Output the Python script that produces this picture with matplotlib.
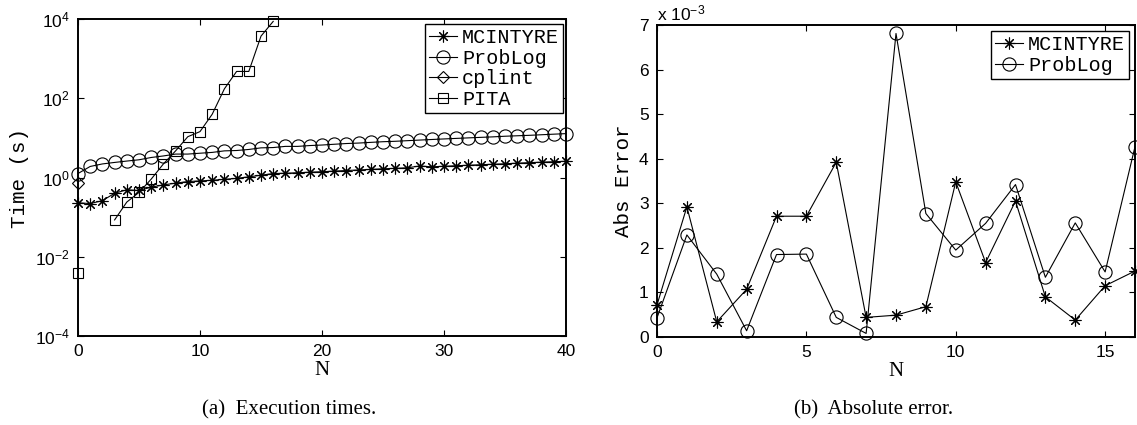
import numpy as np
import matplotlib
matplotlib.use("Agg")
import matplotlib.pyplot as plt
from matplotlib.ticker import FixedLocator, FuncFormatter

plt.rcParams["font.family"] = ["Liberation Sans", "DejaVu Sans"]
plt.rcParams["mathtext.fontset"] = "custom"
plt.rcParams["mathtext.rm"] = "Liberation Sans"
plt.rcParams["mathtext.it"] = "Liberation Sans:italic"
plt.rcParams["mathtext.bf"] = "Liberation Sans:bold"

MONO = ["Liberation Mono", "DejaVu Sans Mono"]
SERIF = ["Liberation Serif", "DejaVu Serif"]

# ---- (a) execution times, seconds ----
n_time = list(range(0, 41))
time_mcintyre = [0.23, 0.22, 0.26, 0.40, 0.49, 0.47, 0.57, 0.65, 0.72, 0.79,
                 0.82, 0.85, 0.90, 0.95, 1.04, 1.14, 1.26, 1.28, 1.32, 1.36,
                 1.40, 1.45, 1.50, 1.55, 1.60, 1.66, 1.70, 1.76, 1.95, 1.86,
                 1.92, 1.98, 2.04, 2.10, 2.16, 2.22, 2.30, 2.37, 2.44, 2.50,
                 2.57]
time_problog = [1.26, 1.9, 2.2, 2.4, 2.6, 2.8, 3.2, 3.5, 3.9, 3.9,
                4.1, 4.3, 4.7, 4.8, 5.1, 5.6, 5.7, 6.1, 6.1, 6.4,
                6.6, 6.9, 7.2, 7.4, 7.7, 8.0, 8.2, 8.5, 8.8, 9.1,
                9.4, 9.7, 10.0, 10.3, 10.6, 11.0, 11.3, 11.6, 12.0, 12.4,
                12.8]
n_cplint = [0]
time_cplint = [0.71]
n_pita = list(range(0, 17))
time_pita = [0.0038, np.nan, np.nan, 0.085, 0.24, 0.42, 0.91, 2.2, 4.7, 10.7,
             14.4, 39.5, 173, 475, 475, 3700, 8700]

# ---- (b) absolute error ----
n_err = list(range(0, 17))
err_mcintyre = [0.72e-3, 2.92e-3, 0.34e-3, 1.07e-3, 2.71e-3, 2.71e-3, 3.92e-3,
                0.44e-3, 0.49e-3, 0.68e-3, 3.48e-3, 1.67e-3, 3.05e-3, 0.90e-3,
                0.38e-3, 1.15e-3, 1.48e-3]
err_problog = [0.43e-3, 2.29e-3, 1.41e-3, 0.14e-3, 1.85e-3, 1.86e-3, 0.44e-3,
               0.08e-3, 6.81e-3, 2.77e-3, 1.95e-3, 2.55e-3, 3.42e-3, 1.34e-3,
               2.56e-3, 1.46e-3, 4.27e-3]

W, H = 1137, 425
fig = plt.figure(figsize=(W / 100, H / 100), dpi=100)

def frac(l, t, r, b):
    return [l / W, (H - b) / H, (r - l) / W, (b - t) / H]

ax1 = fig.add_axes(frac(78, 19, 566, 336))
ax2 = fig.add_axes(frac(657, 25, 1135, 337))

star = (8, 2, 0)
line_kw = dict(color="black", linewidth=0.8, markerfacecolor="none",
               markeredgecolor="black", markeredgewidth=0.8, clip_on=False)

ax1.plot(n_time, time_mcintyre, marker=star, markersize=8.5, label="MCINTYRE", **line_kw)
ax1.plot(n_time, time_problog, marker="o", markersize=9.5, label="ProbLog", **line_kw)
ax1.plot(n_cplint, time_cplint, marker="D", markersize=6.5, label="cplint", **line_kw)
ax1.plot(n_pita, time_pita, marker="s", markersize=7, label="PITA", **line_kw)
ax1.set_yscale("log")
ax1.set_xlim(0, 40)
ax1.set_ylim(1e-4, 1e4)
ax1.xaxis.set_major_locator(FixedLocator([0, 10, 20, 30, 40]))
ax1.yaxis.set_major_locator(FixedLocator([1e-4, 1e-2, 1e0, 1e2, 1e4]))
ax1.yaxis.set_minor_locator(FixedLocator([]))
ax1.set_xlabel("N", family=SERIF, fontsize=15, labelpad=1)
ax1.set_ylabel("Time (s)", family=MONO, fontsize=15, labelpad=4)

ax2.plot(n_err, err_mcintyre, marker=star, markersize=8.5, label="MCINTYRE", **line_kw)
ax2.plot(n_err, err_problog, marker="o", markersize=9.5, label="ProbLog", **line_kw)
ax2.set_xlim(0, 16)
ax2.set_ylim(0, 7e-3)
ax2.xaxis.set_major_locator(FixedLocator([0, 5, 10, 15]))
ax2.yaxis.set_major_locator(FixedLocator([i * 1e-3 for i in range(8)]))
ax2.yaxis.set_major_formatter(FuncFormatter(lambda v, p: f"{v * 1e3:.0f}"))
ax2.text(0.0, 1.005, r"x $10^{-3}$", transform=ax2.transAxes, fontsize=12.5,
         ha="left", va="bottom")
ax2.set_xlabel("N", family=SERIF, fontsize=15, labelpad=1)
ax2.set_ylabel("Abs Error", family=MONO, fontsize=15, labelpad=4)

for ax in (ax1, ax2):
    ax.tick_params(which="both", direction="in", top=True, right=True,
                   length=4, width=0.8, labelsize=12.5, pad=6)
    for s in ax.spines.values():
        s.set_linewidth(1.4)

leg_kw = dict(loc="upper right", prop={"family": MONO, "size": 14.5},
              handlelength=1.4, handletextpad=0.25, labelspacing=0.08,
              borderpad=0.2, borderaxespad=0, fancybox=False, framealpha=1)
l1 = ax1.legend(bbox_to_anchor=(1 - 3 / 488, 1 - 5 / 317), **leg_kw)
l2 = ax2.legend(bbox_to_anchor=(1 - 6 / 478, 1 - 6 / 312), **leg_kw)
for lg in (l1, l2):
    lg.get_frame().set_edgecolor("black")
    lg.get_frame().set_linewidth(1.0)
    lg.set_zorder(5)

fig.text(289 / W, 1 - 410 / H, "(a)  Execution times.", family=SERIF,
         fontsize=15, ha="center", va="center")
fig.text(874 / W, 1 - 410 / H, "(b)  Absolute error.", family=SERIF,
         fontsize=15, ha="center", va="center")

fig.savefig("out.png", dpi=100)
